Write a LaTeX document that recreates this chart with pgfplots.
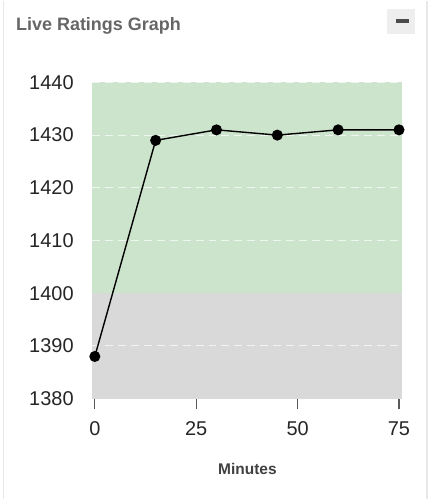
\documentclass[border=0pt]{standalone}
\usepackage{pgfplots}
\pgfplotsset{compat=1.18}
\usepackage{fontspec}
\setmainfont{Liberation Sans}
\definecolor{zonegreen}{HTML}{CCE3CC}
\definecolor{zonegray}{HTML}{D9D9D9}
\definecolor{titlegray}{HTML}{666666}
\definecolor{cardborder}{HTML}{E8E8E8}
\definecolor{btngray}{HTML}{EEEEEE}
\begin{document}
\begin{tikzpicture}
\fill[white] (0pt,0pt) rectangle (432pt,500pt);
% card borders
\draw[cardborder, line width=1.2pt] (3.5pt,0pt) -- (3.5pt,500pt);
\draw[cardborder, line width=1.2pt] (428pt,0pt) -- (428pt,500pt);
% title
\node[anchor=base west, inner sep=0pt, text=titlegray, font=\fontsize{18}{20}\selectfont\bfseries] at (16pt,470pt) {Live Ratings Graph};
% minus button
\fill[btngray] (388pt,467pt) rectangle (416pt,492pt);
\fill[black!70] (397pt,478pt) rectangle (410pt,481.5pt);
\begin{axis}[
  name=ax,
  at={(92pt,101pt)}, anchor=south west,
  scale only axis, width=311pt, height=317pt,
  xmin=-0.75, xmax=75.75, ymin=1380, ymax=1440,
  axis x line*=bottom, axis y line=none,
  xtick={0,25,50,75}, ytick=\empty,
  xticklabels={},
  x axis line style={draw=black!65, line width=1.3pt},
  xtick style={draw=black!65, line width=1.3pt},
  major tick length=10pt,
  tick align=outside,
  clip=false,
]
% background zones
\addplot[draw=none, fill=zonegreen] coordinates {(-0.75,1400) (75.75,1400) (75.75,1440) (-0.75,1440)} -- cycle;
\addplot[draw=none, fill=zonegray] coordinates {(-0.75,1380) (75.75,1380) (75.75,1400) (-0.75,1400)} -- cycle;
% dashed grid lines
\foreach \yy in {1390,1410,1420,1430,1440} {
  \edef\tmp{\noexpand\draw[white, opacity=0.7, line width=1pt, dash pattern=on 8pt off 5pt] (axis cs:-0.75,\yy) -- (axis cs:75.75,\yy);}
  \tmp
}
\foreach \yy in {1380,1390,1400,1410,1420,1430,1440} {
  \edef\tmp{\noexpand\coordinate (yl\yy) at (axis cs:-0.75,\yy);}
  \tmp
}
\foreach \xx in {0,25,50,75} {
  \edef\tmp{\noexpand\coordinate (xl\xx) at (axis cs:\xx,1380);}
  \tmp
}
\addplot[black, line width=1.4pt, mark=*, mark size=4.8pt, mark options={fill=black}] coordinates {
(0,1388) (15,1429) (30,1431) (45,1430) (60,1431) (75,1431)
};
\end{axis}
% y tick labels
\foreach \yy in {1380,1390,1400,1410,1420,1430,1440} {
  \node[anchor=east, inner sep=0pt, font=\fontsize{20}{22}\selectfont, text=black!85] at ([xshift=-18pt]yl\yy) {\yy};
}
% x tick labels
\foreach \xx in {0,25,50,75} {
  \node[anchor=center, inner sep=0pt, font=\fontsize{20}{22}\selectfont, text=black!85] at ([yshift=-30pt]xl\xx) {\xx};
}
\node[anchor=center, inner sep=0pt, font=\fontsize{15.5}{17}\selectfont\bfseries, text=black!75] at (248pt,31pt) {Minutes};
\end{tikzpicture}
\end{document}
